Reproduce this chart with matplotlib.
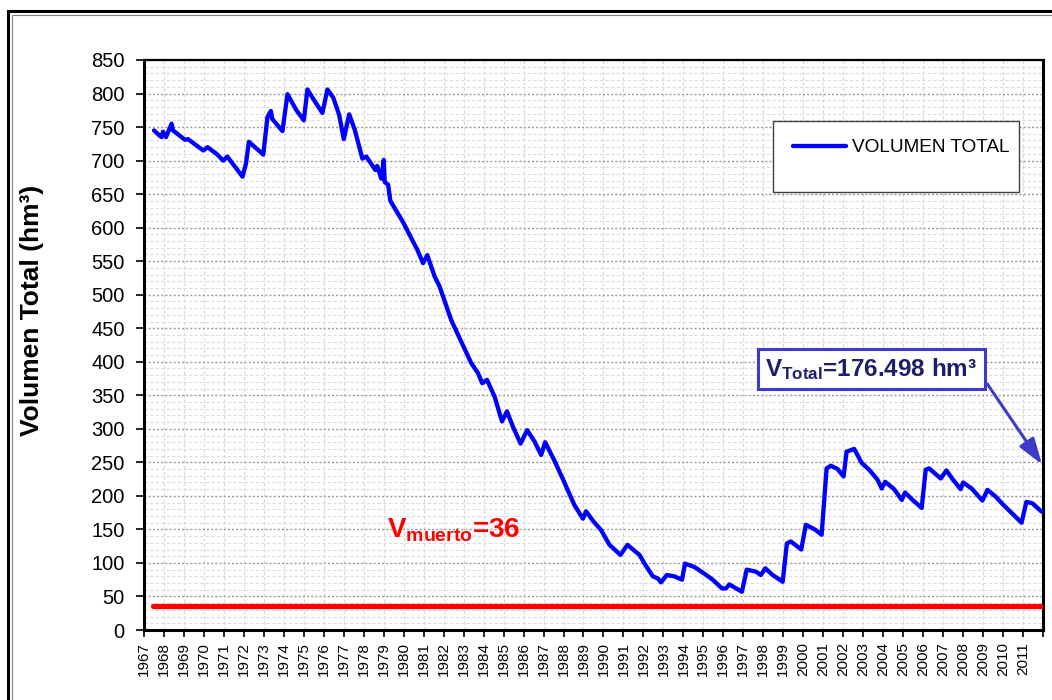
import matplotlib
matplotlib.use('Agg')
import matplotlib.pyplot as plt
from matplotlib.patches import Rectangle

plt.rcParams['font.family'] = 'Liberation Sans'
plt.rcParams['mathtext.fontset'] = 'custom'
plt.rcParams['mathtext.rm'] = 'Liberation Sans'
plt.rcParams['mathtext.bf'] = 'Liberation Sans:bold'

# serie (anio decimal, hm3)
anio = [1967.5, 1967.75, 1967.88, 1967.95, 1968.1, 1968.38, 1968.45, 1969.05, 1969.2,
        1969.97, 1970.18, 1970.63, 1970.97, 1971.17, 1971.63, 1971.93, 1972.1, 1972.25,
        1972.97, 1973.18, 1973.35, 1973.42, 1973.93, 1974.18, 1974.63, 1975.0, 1975.18,
        1975.6, 1975.93, 1976.18, 1976.47, 1976.77, 1977.0, 1977.27, 1977.55, 1977.93,
        1978.13, 1978.58, 1978.67, 1978.88, 1979.0, 1979.05, 1979.22, 1979.33, 1979.97,
        1980.47, 1980.68, 1980.97, 1981.18, 1981.55, 1981.8, 1982.38, 1982.88, 1983.38,
        1983.72, 1983.93, 1984.17, 1984.55, 1984.92, 1985.17, 1985.47, 1985.85, 1986.18,
        1986.55, 1986.88, 1987.08, 1987.52, 1987.97, 1988.13, 1988.55, 1988.97, 1989.13,
        1989.47, 1989.88, 1990.3, 1990.85, 1991.2, 1991.8, 1992.1, 1992.47, 1992.72,
        1992.88, 1993.17, 1993.55, 1993.93, 1994.08, 1994.55, 1995.05, 1995.47, 1995.93,
        1996.13, 1996.3, 1996.93, 1997.17, 1997.63, 1997.88, 1998.1, 1998.47, 1998.97,
        1999.18, 1999.38, 1999.9, 2000.13, 2000.63, 2000.92, 2001.17, 2001.38, 2001.72,
        2002.02, 2002.17, 2002.55, 2002.93, 2003.3, 2003.72, 2003.93, 2004.1, 2004.55,
        2004.93, 2005.1, 2005.47, 2005.93, 2006.13, 2006.3, 2006.88, 2007.17, 2007.5,
        2007.88, 2008.0, 2008.43, 2008.97, 2009.22, 2009.63, 2009.97, 2010.38, 2010.93,
        2011.17, 2011.47, 2011.93]
volumen = [745, 738, 735, 743, 735, 755, 745, 731, 732,
           715, 720, 710, 700, 706, 688, 676, 695, 728,
           709, 765, 774, 762, 744, 799, 775, 760, 806,
           786, 771, 806, 794, 768, 732, 769, 746, 703,
           706, 686, 692, 673, 701, 668, 664, 640, 608,
           579, 567, 547, 559, 527, 512, 462, 430, 398,
           383, 368, 373, 348, 311, 326, 303, 278, 298,
           281, 261, 280, 254, 225, 214, 186, 166, 177,
           163, 149, 127, 112, 127, 112, 97, 80, 77,
           71, 82, 80, 75, 99, 94, 84, 75, 62,
           62, 68, 57, 90, 87, 82, 92, 82, 72,
           129, 132, 120, 157, 149, 142, 241, 245, 240,
           229, 266, 270, 249, 239, 224, 211, 221, 210,
           194, 205, 194, 182, 239, 241, 226, 238, 224,
           210, 220, 211, 193, 209, 199, 188, 176, 160,
           191, 189, 176.498]

v_muerto = 36
v_total = 176.498
anios_eje = list(range(1967, 2013))
etiquetas = [str(a) for a in anios_eje[:-1]] + ['']

fig = plt.figure(figsize=(10.52, 7.0), dpi=100)
ax = fig.add_axes([0.1369, 0.1, 0.8545, 0.8143])

# marco exterior
fig.patches.append(Rectangle((8 / 1052, -0.1), 2, 1.1 - 11 / 700, transform=fig.transFigure,
                             fill=False, ec='black', lw=2.2))
fig.patches.append(Rectangle((12 / 1052, -0.1), 2, 1.1 - 15 / 700, transform=fig.transFigure,
                             fill=False, ec='#808080', lw=0.8))

ax.plot(anio, volumen, color='#0000FF', lw=3.1, label='VOLUMEN TOTAL', zorder=3,
        solid_joinstyle='round', solid_capstyle='round')
ax.plot([1967.45, 2012], [v_muerto, v_muerto], color='#FF0000', lw=3.8,
        solid_capstyle='round', zorder=3)

ax.set_xlim(1967, 2012)
ax.set_ylim(0, 850)
ax.set_yticks(range(0, 851, 50))
ax.set_yticks(range(0, 851, 10), minor=True)
ax.set_xticks(anios_eje)
ax.set_xticklabels(etiquetas, rotation=90, fontsize=11)
ax.tick_params(axis='y', which='major', labelsize=14.5, length=6, width=1.2, pad=8)
ax.tick_params(axis='y', which='minor', length=0)
ax.tick_params(axis='x', which='major', length=5, width=1.2, pad=4)

ax.grid(which='major', axis='y', color='#9a9a9a', ls=(0, (1.5, 1.5)), lw=1.0, zorder=0)
ax.grid(which='minor', axis='y', color='#dcdcdc', ls=(0, (3, 2)), lw=0.8, zorder=0)
ax.grid(which='major', axis='x', color='#d8d8d8', ls=(0, (3, 2)), lw=0.8, zorder=0)
ax.set_axisbelow(True)

for s in ['left', 'bottom', 'right']:
    ax.spines[s].set_linewidth(2.2)
ax.spines['top'].set_linewidth(1.6)

ax.set_ylabel('Volumen Total (hm³)', fontsize=19, fontweight='bold')
ax.yaxis.set_label_coords(-0.111, 0.56)

# leyenda estilo excel
ax.add_patch(Rectangle((0.6997, 0.768), 0.2736, 0.125, transform=ax.transAxes,
                       fc='white', ec='#404040', lw=1.0, zorder=4))
ax.legend(loc='center left', bbox_to_anchor=(0.722, 0.846), frameon=False,
          fontsize=13.7, handlelength=2.8, handletextpad=0.3, borderpad=0, borderaxespad=0)

ax.text(1979.15, 149, r'$\mathbf{V_{muerto}}$=36', color='#FF0000', fontsize=20,
        fontweight='bold', va='center', ha='left', zorder=5)

ax.annotate(r'$\mathbf{V_{Total}}$=176.498 hm³', xy=(2011.95, 247), xytext=(2003.4, 389),
            color='#1E1E6E', fontsize=17.5, fontweight='bold', ha='center', va='center',
            bbox=dict(boxstyle='square,pad=0.3', fc='white', ec='#3C3CC8', lw=2.2),
            arrowprops=dict(arrowstyle='-|>,head_length=0.9,head_width=0.3', color='#3C3CC8',
                            lw=2.2, relpos=(1, 0.5), shrinkB=0),
            zorder=5)

fig.savefig('out.png', dpi=100)
